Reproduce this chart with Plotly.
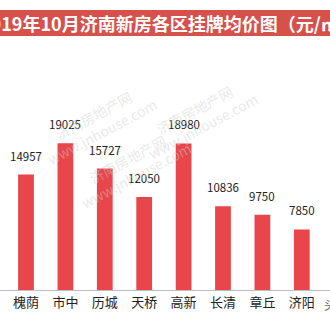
import plotly.graph_objects as go

categories = ["槐荫", "市中", "历城", "天桥", "高新", "长清", "章丘", "济阳"]
prices = [14957, 19025, 15727, 12050, 18980, 10836, 9750, 7850]
title_text = "2019年10月济南新房各区挂牌均价图（元/㎡）"

BAR = "#E8464A"
FONT = "Noto Sans CJK SC, Microsoft YaHei, sans-serif"

fig = go.Figure()
fig.add_trace(go.Bar(
    x=categories, y=prices, marker=dict(color=BAR, line=dict(width=0)),
    hoverinfo="skip",
))

for c, v in zip(categories, prices):
    fig.add_annotation(x=c, y=v, text=str(v), showarrow=False,
                       yanchor="bottom", yshift=9,
                       font=dict(family=FONT, size=11.5, color="#222222"))

# title banner
fig.add_shape(type="rect", xref="paper", yref="paper", x0=-0.01, x1=1.01,
              y0=1.016, y1=1.12, fillcolor="#D6504C", line=dict(width=0), layer="below")
fig.add_annotation(xref="paper", yref="paper", x=0.51, y=1.068, text="<b>" + title_text + "</b>",
                   showarrow=False, xanchor="center", yanchor="middle",
                   font=dict(family=FONT, size=18, color="white"))

# faint watermarks
wm = "rgba(205,205,205,0.45)"
for (x, y) in [(0.10, 0.86), (0.80, 0.88), (0.40, 0.30)]:
    fig.add_annotation(xref="paper", yref="paper", x=x, y=y,
                       text="济南房地产网<br>www.jnhouse.com", showarrow=False,
                       textangle=-28, font=dict(family=FONT, size=14, color=wm))

fig.add_annotation(xref="paper", yref="paper", x=0.975, y=-0.1, text="头条", showarrow=False,
                   xanchor="left", font=dict(family=FONT, size=12, color="#666666"))

fig.update_layout(
    width=330, height=330,
    margin=dict(l=0, r=0, t=40, b=40),
    paper_bgcolor="white", plot_bgcolor="white",
    bargap=0.6, showlegend=False,
    xaxis=dict(range=[-0.66, 7.716], showline=True, linecolor="#BFBFBF", linewidth=1,
               ticks="", showgrid=False, tickfont=dict(family=FONT, size=13, color="#222222"),
               fixedrange=True),
    yaxis=dict(range=[0, 32383], visible=False, showgrid=False, fixedrange=True),
)

fig.write_html("out.html")
